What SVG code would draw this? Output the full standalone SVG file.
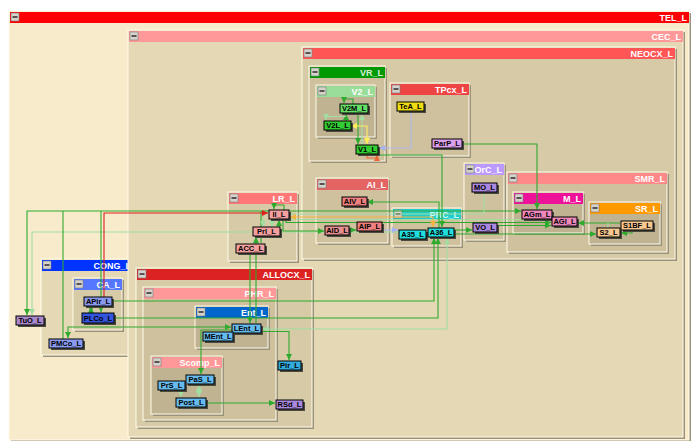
<svg xmlns="http://www.w3.org/2000/svg" width="692" height="441" viewBox="0 0 692 441">
<style>
.c .sh{fill:#9C927A}
.c .bd{stroke:#FFFBEA;stroke-width:1}
.btn{fill:#D6D3CC;stroke:#7A7A7A;stroke-width:0.6}
.bm{stroke:#000;stroke-width:1.2}
.ht{font-family:"Liberation Sans",Arial,sans-serif;font-weight:bold;font-size:9px;fill:#FFFFFF;text-anchor:end}
.n .s{fill:#4A4A40}
.n rect.b{stroke:#000;stroke-width:1}
.n text{font-family:"Liberation Sans",Arial,sans-serif;font-weight:bold;font-size:7.5px;fill:#000;text-anchor:middle}
.e{fill:none;stroke-width:1.1}
.g{stroke:#2EAA2E}
.lg{stroke:#A2DEA2}
.r{stroke:#DD2020}
.y{stroke:#FFEE66}
.o{stroke:#EE6633}
.go{stroke:#F2B440}
.lv{stroke:#B0B8EE}
.g.a{marker-end:url(#mg)}
.g.b2{marker-start:url(#mg);marker-end:url(#mg)}
.lg.a{marker-end:url(#mlg)}
.lg.b2{marker-start:url(#mlg);marker-end:url(#mlg)}
</style>
<defs>
<marker id="mg" markerUnits="userSpaceOnUse" markerWidth="7" markerHeight="6" refX="6" refY="3" orient="auto-start-reverse"><path d="M0,0 L6,3 L0,6 z" fill="#2EAA2E"/></marker>
<marker id="mlg" markerUnits="userSpaceOnUse" markerWidth="7" markerHeight="6" refX="6" refY="3" orient="auto-start-reverse"><path d="M0,0 L6,3 L0,6 z" fill="#A2DEA2"/></marker>
<marker id="mr" markerUnits="userSpaceOnUse" markerWidth="7" markerHeight="6" refX="6" refY="3" orient="auto-start-reverse"><path d="M0,0 L6,3 L0,6 z" fill="#DD2020"/></marker>
<marker id="my" markerUnits="userSpaceOnUse" markerWidth="7" markerHeight="6" refX="6" refY="3" orient="auto-start-reverse"><path d="M0,0 L6,3 L0,6 z" fill="#FFEE55"/></marker>
<marker id="mo" markerUnits="userSpaceOnUse" markerWidth="7" markerHeight="6" refX="6" refY="3" orient="auto-start-reverse"><path d="M0,0 L6,3 L0,6 z" fill="#EE6633"/></marker>
<marker id="mgo" markerUnits="userSpaceOnUse" markerWidth="7" markerHeight="6" refX="6" refY="3" orient="auto-start-reverse"><path d="M0,0 L6,3 L0,6 z" fill="#F2B440"/></marker>
<marker id="mlv" markerUnits="userSpaceOnUse" markerWidth="7" markerHeight="6" refX="6" refY="3" orient="auto-start-reverse"><path d="M0,0 L6,3 L0,6 z" fill="#A8B4EE"/></marker>
</defs>
<rect width="692" height="441" fill="#FFFFFF"/>

<!-- containers -->
<g id="TEL_L" class="c"><rect class="sh" x="11" y="13" width="680" height="429"/><rect class="bd" x="9" y="11" width="680" height="429" fill="#F8EBCB"/><rect x="10" y="12" width="679" height="11" fill="#FF0000"/><rect class="btn" x="11" y="13" width="8" height="8"/><path class="bm" d="M12.5,17h5"/><text class="ht" x="687" y="21">TEL_L</text></g>

<g id="CONG_L" class="c"><rect class="sh" x="43" y="261" width="92" height="96"/><rect class="bd" x="41" y="259" width="92" height="96" fill="#E4D8B5"/><rect x="42" y="260" width="91" height="11" fill="#0033FF"/><rect class="btn" x="43" y="261" width="8" height="8"/><path class="bm" d="M44.5,265h5"/><text class="ht" x="131" y="269">CONG_L</text></g>
<g id="CA_L" class="c"><rect class="sh" x="75" y="280" width="49" height="52"/><rect class="bd" x="73" y="278" width="49" height="52" fill="#D7CAA7"/><rect x="74" y="279" width="48" height="11" fill="#5577FF"/><rect class="btn" x="75" y="280" width="8" height="8"/><path class="bm" d="M76.5,284h5"/><text class="ht" x="120" y="288">CA_L</text></g>

<g id="CEC_L" class="c"><rect class="sh" x="130" y="32" width="555" height="407"/><rect class="bd" x="128" y="30" width="555" height="407" fill="#E4D8B5"/><rect x="129" y="31" width="554" height="11" fill="#FF9999"/><rect class="btn" x="130" y="32" width="8" height="8"/><path class="bm" d="M131.5,36h5"/><text class="ht" x="681" y="40">CEC_L</text></g>

<g id="NEOCX_L" class="c"><rect class="sh" x="304" y="49" width="373" height="212"/><rect class="bd" x="302" y="47" width="373" height="212" fill="#D7CAA7"/><rect x="303" y="48" width="372" height="11" fill="#FF5555"/><rect class="btn" x="304" y="49" width="8" height="8"/><path class="bm" d="M305.5,53h5"/><text class="ht" x="673" y="57">NEOCX_L</text></g>
<g id="VR_L" class="c"><rect class="sh" x="311" y="68" width="76" height="95"/><rect class="bd" x="309" y="66" width="76" height="95" fill="#CFC19E"/><rect x="310" y="67" width="75" height="11" fill="#009900"/><rect class="btn" x="311" y="68" width="8" height="8"/><path class="bm" d="M312.5,72h5"/><text class="ht" x="383" y="76" style="fill:#D8EED8">VR_L</text></g>
<g id="V2_L" class="c"><rect class="sh" x="318" y="87" width="59" height="52"/><rect class="bd" x="316" y="85" width="59" height="52" fill="#C0B391"/><rect x="317" y="86" width="58" height="11" fill="#99DD99"/><rect class="btn" x="318" y="87" width="8" height="8"/><path class="bm" d="M319.5,91h5"/><text class="ht" x="373" y="95">V2_L</text></g>
<g id="TPcx_L" class="c"><rect class="sh" x="392" y="85" width="79" height="73"/><rect class="bd" x="390" y="83" width="79" height="73" fill="#CFC19E"/><rect x="391" y="84" width="78" height="11" fill="#EE4444"/><rect class="btn" x="392" y="85" width="8" height="8"/><path class="bm" d="M393.5,89h5"/><text class="ht" x="467" y="93">TPcx_L</text></g>
<g id="AI_L" class="c"><rect class="sh" x="318" y="180" width="72" height="65"/><rect class="bd" x="316" y="178" width="72" height="65" fill="#CFC19E"/><rect x="317" y="179" width="71" height="11" fill="#E46464"/><rect class="btn" x="318" y="180" width="8" height="8"/><path class="bm" d="M319.5,184h5"/><text class="ht" x="386" y="188">AI_L</text></g>
<g id="PRC_L" class="c"><rect class="sh" x="394" y="210" width="69" height="38"/><rect class="bd" x="392" y="208" width="69" height="38" fill="#CFC19E"/><rect x="393" y="209" width="68" height="11" fill="#22CCCC"/><rect class="btn" x="394" y="210" width="8" height="8"/><path class="bm" d="M395.5,214h5"/><text class="ht" x="459" y="218" style="fill:#C8FFFF">PRC_L</text></g>
<g id="OrC_L" class="c"><rect class="sh" x="466" y="165" width="40" height="77"/><rect class="bd" x="464" y="163" width="40" height="77" fill="#CFC19E"/><rect x="465" y="164" width="39" height="11" fill="#BB99FF"/><rect class="btn" x="466" y="165" width="8" height="8"/><path class="bm" d="M467.5,169h5"/><text class="ht" x="502" y="173">OrC_L</text></g>
<g id="SMR_L" class="c"><rect class="sh" x="509" y="174" width="160" height="80"/><rect class="bd" x="507" y="172" width="160" height="80" fill="#CFC19E"/><rect x="508" y="173" width="159" height="11" fill="#FF8888"/><rect class="btn" x="509" y="174" width="8" height="8"/><path class="bm" d="M510.5,178h5"/><text class="ht" x="665" y="182">SMR_L</text></g>
<g id="M_L" class="c"><rect class="sh" x="515" y="194" width="70" height="41"/><rect class="bd" x="513" y="192" width="70" height="41" fill="#C0B391"/><rect x="514" y="193" width="69" height="11" fill="#EE1199"/><rect class="btn" x="515" y="194" width="8" height="8"/><path class="bm" d="M516.5,198h5"/><text class="ht" x="581" y="202">M_L</text></g>
<g id="SR_L" class="c"><rect class="sh" x="591" y="204" width="71" height="42"/><rect class="bd" x="589" y="202" width="71" height="42" fill="#C0B391"/><rect x="590" y="203" width="70" height="11" fill="#FF9900"/><rect class="btn" x="591" y="204" width="8" height="8"/><path class="bm" d="M592.5,208h5"/><text class="ht" x="658" y="212">SR_L</text></g>
<g id="LR_L" class="c"><rect class="sh" x="230" y="194" width="69" height="69"/><rect class="bd" x="228" y="192" width="69" height="69" fill="#D7CAA7"/><rect x="229" y="193" width="68" height="11" fill="#FF7777"/><rect class="btn" x="230" y="194" width="8" height="8"/><path class="bm" d="M231.5,198h5"/><text class="ht" x="295" y="202">LR_L</text></g>
<g id="ALLOCX_L" class="c"><rect class="sh" x="138" y="270" width="176" height="159"/><rect class="bd" x="136" y="268" width="176" height="159" fill="#D7CAA7"/><rect x="137" y="269" width="175" height="11" fill="#DD2222"/><rect class="btn" x="138" y="270" width="8" height="8"/><path class="bm" d="M139.5,274h5"/><text class="ht" x="310" y="278">ALLOCX_L</text></g>
<g id="PHR_L" class="c"><rect class="sh" x="145" y="289" width="133" height="133"/><rect class="bd" x="143" y="287" width="133" height="133" fill="#CFC19E"/><rect x="144" y="288" width="132" height="11" fill="#FF9999"/><rect class="btn" x="145" y="289" width="8" height="8"/><path class="bm" d="M146.5,293h5"/><text class="ht" x="274" y="297">PHR_L</text></g>
<g id="Ent_L" class="c"><rect class="sh" x="197" y="308" width="73" height="42"/><rect class="bd" x="195" y="306" width="73" height="42" fill="#C0B391"/><rect x="196" y="307" width="72" height="11" fill="#0066CC"/><rect class="btn" x="197" y="308" width="8" height="8"/><path class="bm" d="M198.5,312h5"/><text class="ht" x="266" y="316">Ent_L</text></g>
<g id="Scomp_L" class="c"><rect class="sh" x="153" y="358" width="71" height="58"/><rect class="bd" x="151" y="356" width="71" height="58" fill="#C0B391"/><rect x="152" y="357" width="70" height="11" fill="#FF9999"/><rect class="btn" x="153" y="358" width="8" height="8"/><path class="bm" d="M154.5,362h5"/><text class="ht" x="220" y="366">Scomp_L</text></g>

<!-- connectors -->
<g id="connectors">
<path class="e lg b2" d="M32,315 V232 H427"/>
<path class="e g b2" d="M27,315 V211 H521"/>
<path class="e g" d="M63,339 V211"/>
<path class="e g a" d="M101,211 V312"/>
<path class="e g b2" d="M91,307 V312"/>
<path class="e g a" d="M112,301 H434 V238"/>
<path class="e g a" d="M114,318 H438 V238"/>
<path class="e lg b2" d="M262,329 H447 V238"/>
<path class="e g b2" d="M68,338 V327 H231"/>
<path class="e g a" d="M232,330 H201 V374"/>
<path class="e g a" d="M261,331.5 H289 V360"/>
<path class="e g a" d="M250,254 V323"/>
<path class="e g a" d="M256,323 V237"/>
<path class="e g" d="M261,211 V243"/>
<path class="e g a" d="M279,228 V220"/>
<path class="e g a" d="M284,210 V205 H274 V209"/>
<path class="e lg a" d="M263,216 V227"/>
<path class="e lg a" d="M272,220 V227"/>
<path class="e lg" d="M484,192 V214 H290"/>
<path class="e g a" d="M283,219 V231 H324"/>
<path class="e g a" d="M349,230 H356"/>
<path class="e lg a" d="M290,219.5 H551"/>
<path class="e g a" d="M286,219 V222.5 H551"/>
<path class="e g a" d="M497,225.5 H551"/>
<path class="e g a" d="M454,230 H472"/>
<path class="e g a" d="M454,234 H596"/>
<path class="e g a" d="M620,223 H578"/>
<path class="e g a" d="M632,230 V233 H621"/>
<path class="e lg" d="M608,223 V228"/>
<path class="e g a" d="M462,144 H537 V209"/>
<path class="e g a" d="M378,155 H442 V227"/>
<path class="e g a" d="M439,228 V202 H367"/>
<path class="e g a" d="M353,104 V99 H344 V103"/>
<path class="e g a" d="M346,121 V114"/>
<path class="e g a" d="M358,113 V144"/>
<path class="e lg a" d="M362,145 V114"/>
<path class="e lg a" d="M346,116.5 H326 V120"/>
<path class="e y" d="M351,126 H367 V144" style="marker-start:url(#my);marker-end:url(#my)"/>
<path class="e o" d="M367,154 V158 H377 V155" style="marker-end:url(#mo)"/>
<path class="e go" d="M290,217 H433 V227" style="marker-start:url(#mgo);marker-end:url(#mgo)"/>
<path class="e lv" d="M411,111 V148 H379" style="marker-end:url(#mlv)"/>
<path class="e lv" d="M382,230 H398" style="marker-end:url(#mlv)"/>
<path class="e r" d="M104,297 V213 H268" style="marker-end:url(#mr)"/>
<path class="e g a" d="M206,403 H275"/>
<path class="e lg b2" d="M199,385 V397"/>
<path class="e lg a" d="M181,391 V397"/>
</g>

<!-- nodes -->
<g id="V2M_L" class="n"><rect class="s" x="342" y="106" width="28" height="9"/><rect class="b" x="340" y="104" width="28" height="9" fill="#66DD66"/><text x="354" y="111">V2M_L</text></g>
<g id="V2L_L" class="n"><rect class="s" x="326" y="123" width="27" height="9"/><rect class="b" x="324" y="121" width="27" height="9" fill="#33CC33"/><text x="337.5" y="128">V2L_L</text></g>
<g id="V1_L" class="n"><rect class="s" x="358" y="147" width="22" height="9"/><rect class="b" x="356" y="145" width="22" height="9" fill="#33CC33"/><text x="367" y="152">V1_L</text></g>
<g id="TeA_L" class="n"><rect class="s" x="399" y="104" width="27" height="9"/><rect class="b" x="397" y="102" width="27" height="9" fill="#EEDD11"/><text x="410.5" y="109">TeA_L</text></g>
<g id="ParP_L" class="n"><rect class="s" x="434" y="141" width="30" height="9"/><rect class="b" x="432" y="139" width="30" height="9" fill="#DDA0EE"/><text x="447" y="146">ParP_L</text></g>
<g id="AIV_L" class="n"><rect class="s" x="344" y="199" width="25" height="9"/><rect class="b" x="342" y="197" width="25" height="9" fill="#F08080"/><text x="354.5" y="204">AIV_L</text></g>
<g id="AIP_L" class="n"><rect class="s" x="359" y="224" width="25" height="9"/><rect class="b" x="357" y="222" width="25" height="9" fill="#F08080"/><text x="369.5" y="229">AIP_L</text></g>
<g id="AID_L" class="n"><rect class="s" x="327" y="228" width="24" height="9"/><rect class="b" x="325" y="226" width="24" height="9" fill="#E89090"/><text x="337" y="233">AID_L</text></g>
<g id="A35_L" class="n"><rect class="s" x="401" y="232" width="27" height="9"/><rect class="b" x="399" y="230" width="27" height="9" fill="#22DDDD"/><text x="412.5" y="237">A35_L</text></g>
<g id="A36_L" class="n"><rect class="s" x="430" y="230" width="26" height="9"/><rect class="b" x="428" y="228" width="26" height="9" fill="#22DDDD"/><text x="441" y="235">A36_L</text></g>
<g id="MO_L" class="n"><rect class="s" x="474" y="185" width="25" height="9"/><rect class="b" x="472" y="183" width="25" height="9" fill="#AA88DD"/><text x="484.5" y="190">MO_L</text></g>
<g id="VO_L" class="n"><rect class="s" x="475" y="225" width="24" height="9"/><rect class="b" x="473" y="223" width="24" height="9" fill="#AA88DD"/><text x="485" y="230">VO_L</text></g>
<g id="AGm_L" class="n"><rect class="s" x="524" y="212" width="30" height="9"/><rect class="b" x="522" y="210" width="30" height="9" fill="#EE88BB"/><text x="537" y="217">AGm_L</text></g>
<g id="AGl_L" class="n"><rect class="s" x="554" y="219" width="25" height="9"/><rect class="b" x="552" y="217" width="25" height="9" fill="#EE88BB"/><text x="564.5" y="224">AGl_L</text></g>
<g id="S1BF_L" class="n"><rect class="s" x="623" y="223" width="32" height="9"/><rect class="b" x="621" y="221" width="32" height="9" fill="#F8C890"/><text x="637" y="228">S1BF_L</text></g>
<g id="S2_L" class="n"><rect class="s" x="599" y="230" width="23" height="9"/><rect class="b" x="597" y="228" width="23" height="9" fill="#F8C890"/><text x="608.5" y="235">S2_L</text></g>
<g id="Il_L" class="n"><rect class="s" x="271" y="212" width="20" height="9"/><rect class="b" x="269" y="210" width="20" height="9" fill="#F4A0A0"/><text x="279" y="217">Il_L</text></g>
<g id="Prl_L" class="n"><rect class="s" x="255" y="229" width="27" height="9"/><rect class="b" x="253" y="227" width="27" height="9" fill="#F4A0A0"/><text x="266.5" y="234">Prl_L</text></g>
<g id="ACC_L" class="n"><rect class="s" x="238" y="246" width="29" height="9"/><rect class="b" x="236" y="244" width="29" height="9" fill="#F4A0A0"/><text x="250.5" y="251">ACC_L</text></g>
<g id="APir_L" class="n"><rect class="s" x="86" y="299" width="28" height="9"/><rect class="b" x="84" y="297" width="28" height="9" fill="#8899EE"/><text x="98" y="304">APir_L</text></g>
<g id="PLCo_L" class="n"><rect class="s" x="84" y="315" width="32" height="10"/><rect class="b" x="82" y="313" width="32" height="10" fill="#3355DD"/><text x="98" y="321">PLCo_L</text></g>
<g id="TuO_L" class="n"><rect class="s" x="18" y="318" width="28" height="9"/><rect class="b" x="16" y="316" width="28" height="9" fill="#AA88CC"/><text x="30" y="323">TuO_L</text></g>
<g id="PMCo_L" class="n"><rect class="s" x="51" y="341" width="34" height="9"/><rect class="b" x="49" y="339" width="34" height="9" fill="#8899EE"/><text x="66" y="346">PMCo_L</text></g>
<g id="LEnt_L" class="n"><rect class="s" x="234" y="326" width="29" height="9"/><rect class="b" x="232" y="324" width="29" height="9" fill="#66BBEE"/><text x="246.5" y="331">LEnt_L</text></g>
<g id="MEnt_L" class="n"><rect class="s" x="205" y="334" width="30" height="9"/><rect class="b" x="203" y="332" width="30" height="9" fill="#66BBEE"/><text x="218" y="339">MEnt_L</text></g>
<g id="PaS_L" class="n"><rect class="s" x="188" y="377" width="28" height="9"/><rect class="b" x="186" y="375" width="28" height="9" fill="#66BBEE"/><text x="200" y="382">PaS_L</text></g>
<g id="PrS_L" class="n"><rect class="s" x="160" y="383" width="27" height="9"/><rect class="b" x="158" y="381" width="27" height="9" fill="#66BBEE"/><text x="171.5" y="388">PrS_L</text></g>
<g id="Post_L" class="n"><rect class="s" x="178" y="400" width="30" height="9"/><rect class="b" x="176" y="398" width="30" height="9" fill="#66BBEE"/><text x="191" y="405">Post_L</text></g>
<g id="Pir_L" class="n"><rect class="s" x="280" y="363" width="23" height="9"/><rect class="b" x="278" y="361" width="23" height="9" fill="#33AADD"/><text x="289.5" y="368">Pir_L</text></g>
<g id="RSd_L" class="n"><rect class="s" x="278" y="402" width="27" height="9"/><rect class="b" x="276" y="400" width="27" height="9" fill="#AA88DD"/><text x="289.5" y="407">RSd_L</text></g>
</svg>
